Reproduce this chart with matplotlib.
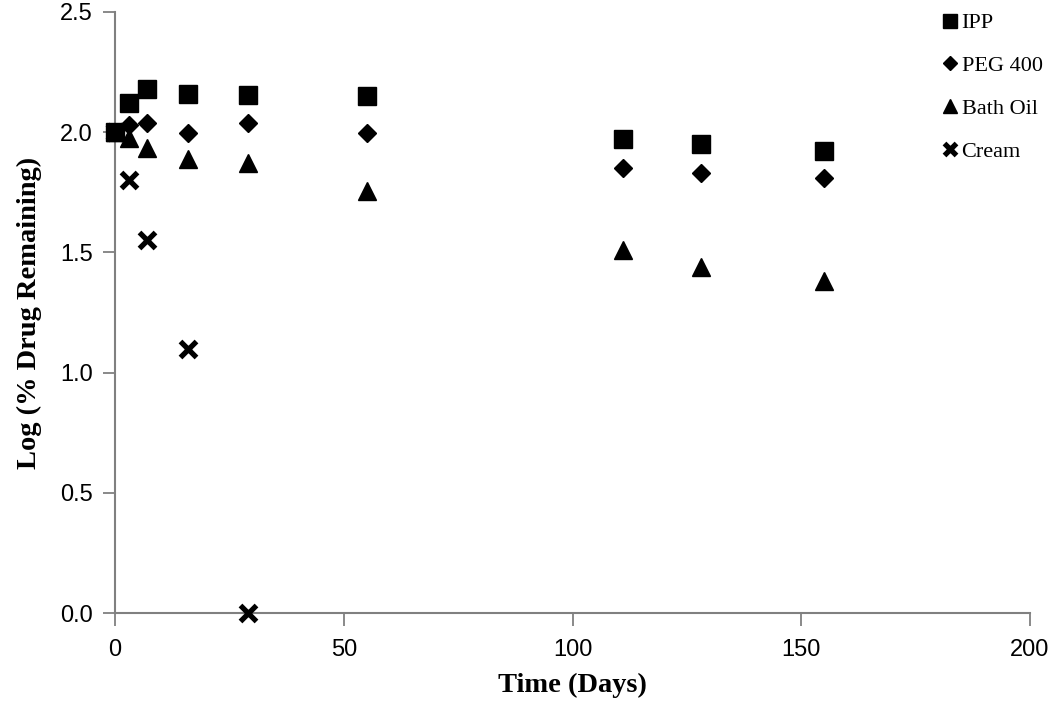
import matplotlib.pyplot as plt

plt.rcParams['font.family'] = ['Liberation Serif', 'DejaVu Serif']

# data
days_ipp = [0, 3, 7, 16, 29, 55, 111, 128, 155]
ipp = [2.0, 2.12, 2.18, 2.16, 2.155, 2.15, 1.97, 1.95, 1.92]

days_peg = [0, 3, 7, 16, 29, 55, 111, 128, 155]
peg = [2.0, 2.03, 2.04, 1.995, 2.04, 1.995, 1.85, 1.83, 1.81]

days_bath = [0, 3, 7, 16, 29, 55, 111, 128, 155]
bath = [2.0, 1.975, 1.935, 1.89, 1.87, 1.755, 1.51, 1.44, 1.38]

days_cream = [0, 3, 7, 16, 29]
cream = [2.0, 1.80, 1.55, 1.10, 0.0]

x_ticks = [0, 50, 100, 150, 200]
y_ticks = [0.0, 0.5, 1.0, 1.5, 2.0, 2.5]

fig = plt.figure(figsize=(10.5, 7.1), dpi=100)
ax = fig.add_axes([0.1095, 0.1366, 0.8715, 0.8465])

ax.plot(days_ipp, ipp, linestyle='none', marker='s', markersize=12.5,
        color='black', label='IPP')
ax.plot(days_peg, peg, linestyle='none', marker='D', markersize=9,
        color='black', label='PEG 400')
ax.plot(days_bath, bath, linestyle='none', marker='^', markersize=13,
        color='black', label='Bath Oil')
ax.plot(days_cream, cream, linestyle='none', marker='x', markersize=11,
        markeredgewidth=3.8, color='black', label='Cream')

ax.set_xlim(0, 200)
ax.set_ylim(0, 2.5)
ax.set_xticks(x_ticks)
ax.set_yticks(y_ticks)
ax.set_xticklabels([str(v) for v in x_ticks])
ax.set_yticklabels(['%.1f' % v for v in y_ticks])
for lab in ax.get_xticklabels() + ax.get_yticklabels():
    lab.set_family(['Liberation Sans', 'DejaVu Sans'])
ax.tick_params(labelsize=17, colors='black', length=9, width=1.3)
ax.tick_params(axis='both', color='#808080')
ax.tick_params(axis='x', pad=10)
ax.tick_params(axis='y', pad=7)

for side in ['top', 'right']:
    ax.spines[side].set_visible(False)
for side in ['left', 'bottom']:
    ax.spines[side].set_color('#808080')
    ax.spines[side].set_linewidth(1.5)
    ax.spines[side].set_zorder(0)

ax.set_xlabel('Time (Days)', fontsize=20.5, fontweight='bold', labelpad=8)
ax.set_ylabel('Log (% Drug Remaining)', fontsize=20.5, fontweight='bold', labelpad=13)

leg = fig.legend(loc='upper right', bbox_to_anchor=(1.012, 1.01), frameon=False,
                 fontsize=16, handletextpad=-0.1, labelspacing=1.0,
                 handlelength=1.2, markerscale=0.75)

for pt in ax.lines:
    pt.set_clip_on(False)

fig.savefig('out.png', dpi=100)
